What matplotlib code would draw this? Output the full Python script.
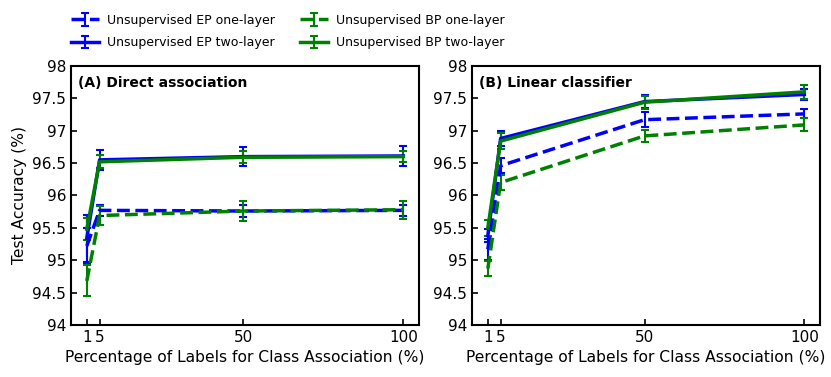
import matplotlib
matplotlib.use("Agg")
import matplotlib.pyplot as plt
from matplotlib.ticker import FuncFormatter

# Percentage of labels used
x = [1, 5, 50, 100]

# (A) Direct association
a_ep1 = [95.22, 95.77, 95.76, 95.77]
a_ep1_err = [0.28, 0.09, 0.09, 0.09]
a_ep2 = [95.34, 96.55, 96.60, 96.61]
a_ep2_err = [0.36, 0.15, 0.15, 0.15]
a_bp1 = [94.68, 95.69, 95.76, 95.78]
a_bp1_err = [0.24, 0.15, 0.15, 0.14]
a_bp2 = [95.48, 96.52, 96.59, 96.60]
a_bp2_err = [0.17, 0.10, 0.09, 0.08]

# (B) Linear classifier
b_ep1 = [95.17, 96.46, 97.17, 97.26]
b_ep1_err = [0.16, 0.12, 0.12, 0.07]
b_ep2 = [95.38, 96.88, 97.45, 97.56]
b_ep2_err = [0.10, 0.12, 0.10, 0.08]
b_bp1 = [94.87, 96.20, 96.92, 97.09]
b_bp1_err = [0.12, 0.12, 0.09, 0.10]
b_bp2 = [95.50, 96.84, 97.44, 97.60]
b_bp2_err = [0.12, 0.12, 0.10, 0.11]

labels = ["Unsupervised EP one-layer", "Unsupervised EP two-layer",
          "Unsupervised BP one-layer", "Unsupervised BP two-layer"]
yticks = [94, 94.5, 95, 95.5, 96, 96.5, 97, 97.5, 98]

fig = plt.figure(figsize=(8.31, 3.77), dpi=100)
ax1 = fig.add_axes([0.0854, 0.138, 0.419, 0.687])
ax2 = fig.add_axes([0.568, 0.138, 0.419, 0.687])

panels = [
    (ax1, "(A) Direct association", [a_ep1, a_ep2, a_bp1, a_bp2],
     [a_ep1_err, a_ep2_err, a_bp1_err, a_bp2_err]),
    (ax2, "(B) Linear classifier", [b_ep1, b_ep2, b_bp1, b_bp2],
     [b_ep1_err, b_ep2_err, b_bp1_err, b_bp2_err]),
]
colors = ["blue", "blue", "green", "green"]
styles = ["--", "-", "--", "-"]

for ax, title, ys, errs in panels:
    for y, e, c, ls, lab in zip(ys, errs, colors, styles, labels):
        ax.errorbar(x, y, yerr=e, color=c, linestyle=ls, linewidth=2.5,
                    elinewidth=1.5, capsize=3, capthick=1.5, label=lab)
    ax.set_ylim(94, 98)
    ax.set_yticks(yticks)
    ax.yaxis.set_major_formatter(FuncFormatter(lambda v, p: "%g" % v))
    ax.set_xticks(x)
    ax.set_xlim(-3.95, 104.95)
    ax.tick_params(direction="in", labelsize=11, width=1.2, length=4)
    for s in ax.spines.values():
        s.set_linewidth(1.5)
    ax.set_xlabel("Percentage of Labels for Class Association (%)", fontsize=11.2)
    ax.text(0.02, 0.96, title, transform=ax.transAxes, fontsize=10,
            fontweight="bold", va="top", ha="left")

ax1.set_ylabel("Test Accuracy (%)", fontsize=11.2)

h, l = ax1.get_legend_handles_labels()
fig.legend(h, l, ncol=2, loc="center", bbox_to_anchor=(288 / 831, 1 - 31.5 / 377),
           frameon=False, fontsize=9, handlelength=2.2, handletextpad=0.7,
           labelspacing=0.75, columnspacing=2.0)

plt.savefig("out.png", dpi=100)
